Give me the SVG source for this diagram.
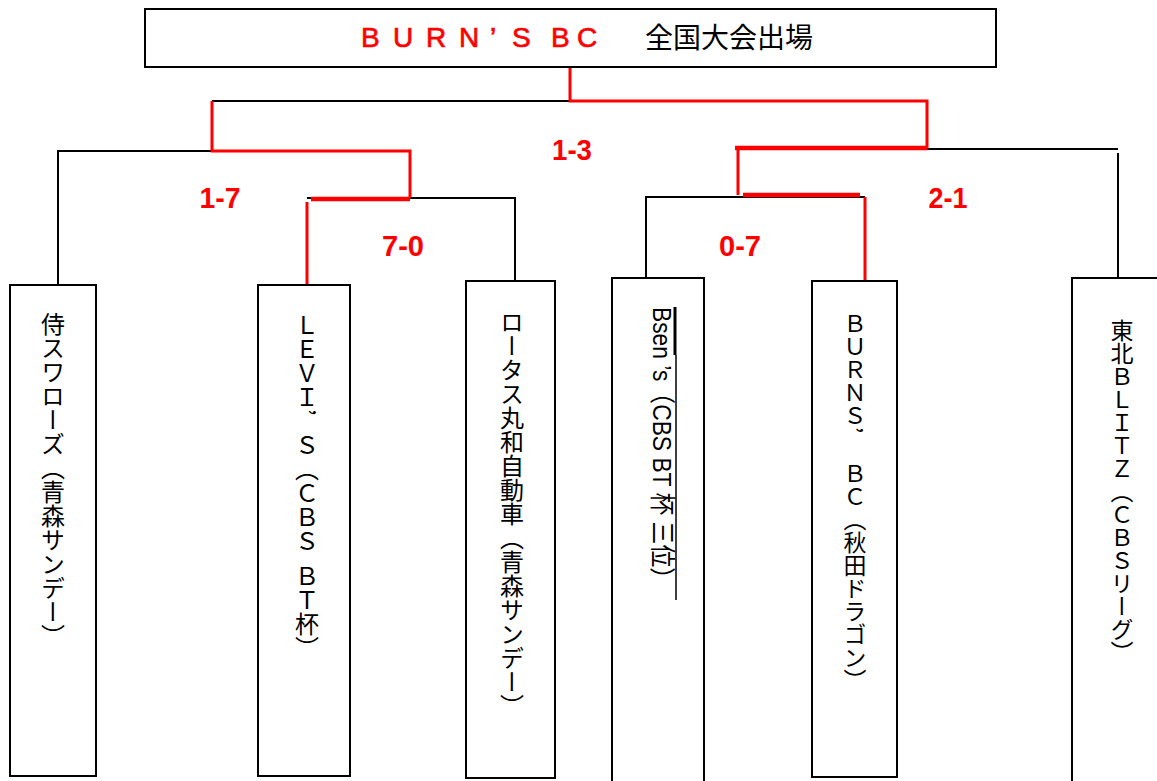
<svg xmlns="http://www.w3.org/2000/svg" width="1157" height="781" viewBox="0 0 1157 781">
<style>
.box{fill:#fff;stroke:#000;stroke-width:2}
.bk{fill:none;stroke:#000;stroke-width:2}
.rd{fill:none;stroke:#ff0000;stroke-width:3}
.rdt{fill:none;stroke:#ff0000;stroke-width:4.5}
.v{writing-mode:vertical-rl;font-family:"Noto Sans CJK JP",sans-serif;font-size:24px;fill:#000}
.sc{font-family:"Liberation Sans",sans-serif;font-size:30px;font-weight:bold;fill:#ff0000;text-anchor:middle}
</style>
<rect width="1157" height="781" fill="#fff"/>
<g id="connectors">
<path class="bk" d="M212 101H570M58 285V151H212M307 198H515V281M927 149H1118M1118 153V278M646 278V197H865"/>
<path class="rd" d="M570 67V101H927V149M212 101V151H410V198M307 202V284M738 148V195M865 197V281"/>
<path class="rdt" d="M311 199H410M735 148H927M743 195H860"/>
</g>
<g id="title">
<rect class="box" x="145" y="9" width="851" height="58"/>
<text x="361 393 426 459 490 512 540 551 577" y="47" style="font-family:'Liberation Sans',sans-serif;font-size:28px;fill:#ff0000;stroke:#ff0000;stroke-width:0.7">BURN’S BC</text>
<text x="645" y="48" style="font-family:'Noto Sans CJK JP',sans-serif;font-size:28px;fill:#000">全国大会出場</text>
</g>
<g id="scores">
<text class="sc" x="572" y="160" textLength="40" lengthAdjust="spacingAndGlyphs">1-3</text>
<text class="sc" x="220" y="208" textLength="41" lengthAdjust="spacingAndGlyphs">1-7</text>
<text class="sc" x="403" y="256" textLength="42" lengthAdjust="spacingAndGlyphs">7-0</text>
<text class="sc" x="740" y="256" textLength="42" lengthAdjust="spacingAndGlyphs">0-7</text>
<text class="sc" x="948" y="208" textLength="39" lengthAdjust="spacingAndGlyphs">2-1</text>
</g>
<g id="team1">
<rect class="box" x="10" y="285" width="86" height="491"/>
<text class="v" x="53" y="312">侍スワローズ（青森サンデー）</text>
</g>
<g id="team2">
<rect class="box" x="258" y="285" width="92" height="491"/>
<text class="v" x="307" y="313">ＬＥＶＩ’<tspan dy="17">Ｓ（ＣＢＳ </tspan><tspan dy="6">ＢＴ杯）</tspan></text>
</g>
<g id="team3">
<rect class="box" x="466" y="281" width="89" height="497"/>
<text class="v" x="512" y="310">ロータス丸和自動車（青森サンデー）</text>
</g>
<g id="team4">
<rect class="box" x="612" y="278" width="92" height="510"/>
<text transform="translate(653,307) rotate(90)" textLength="283" lengthAdjust="spacingAndGlyphs" style="font-family:'Liberation Sans','Noto Sans CJK JP',sans-serif;font-size:26px;fill:#000">Bsen ’s（CBS BT 杯 三位）</text>
<path d="M675 307V355" stroke="#000" stroke-width="3"/>
<path d="M676 355V600" stroke="#000" stroke-width="1.5"/>
</g>
<g id="team5">
<rect class="box" x="812" y="281" width="85" height="496"/>
<text class="v" x="855" y="312" style="font-size:23px">ＢＵＲＮＳ’<tspan dy="24"> ＢＣ（秋田ドラゴン）</tspan></text>
</g>
<g id="team6">
<rect class="box" x="1072" y="278" width="100" height="510"/>
<text class="v" x="1122" y="319" style="font-size:23px">東北ＢＬＩＴＺ（ＣＢＳリーグ）</text>
</g>
</svg>
